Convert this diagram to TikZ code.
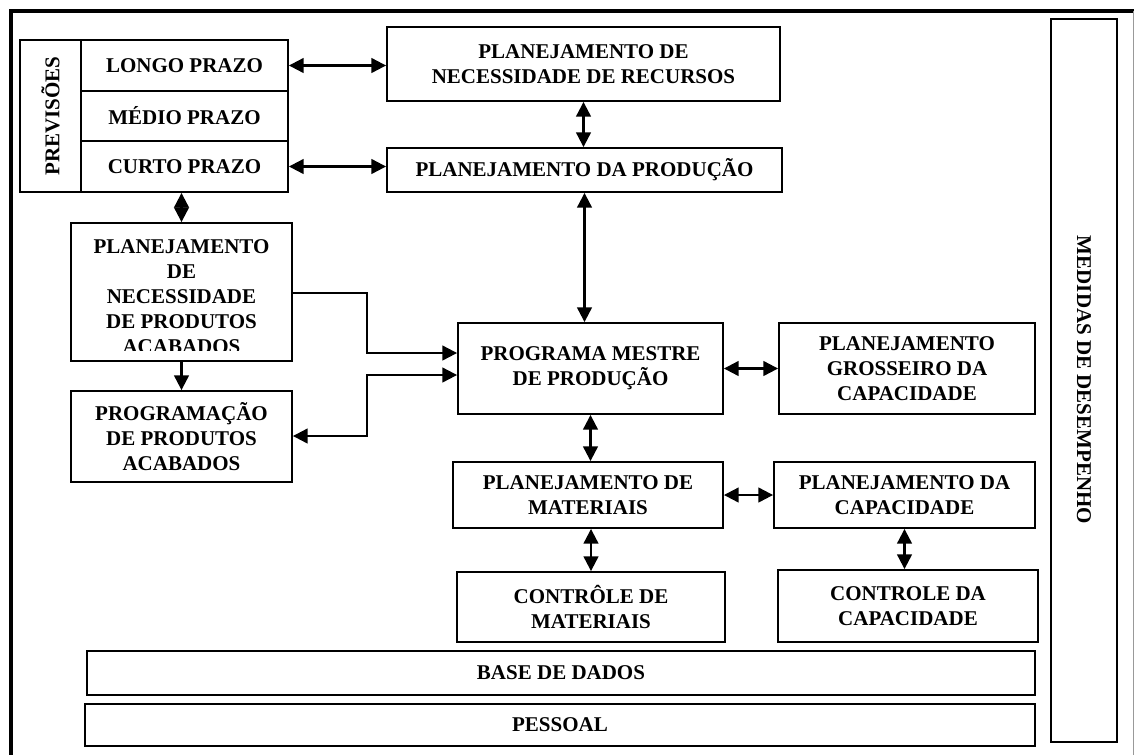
\documentclass[tikz,border=0pt]{standalone}
\usepackage{fontspec}
\setmainfont{Liberation Serif}
\usetikzlibrary{arrows.meta,fit}
\newcommand\diafont{\fontsize{15.75pt}{18.75pt}\selectfont\bfseries}
\begin{document}
\begin{tikzpicture}[x=0.75pt,y=-0.75pt,
  box/.style={draw,line width=1.4pt,inner sep=0pt},
  lbl/.style={inner sep=0pt,align=center,font=\diafont},
  conn/.style={line width=1.6pt,>={Triangle[length=11pt,width=11pt]}}]
\useasboundingbox (0,0) rectangle (1134,754);
% outer frame
\draw[line width=3pt] (11,770) -- (11,11) -- (1145,11);
\draw[line width=0.6pt,black!40] (1133,11) -- (1133,770);
% forecasts
\node[box,fit={(20,40)(81,192)}] (prev) {};
\node[lbl,rotate=90] (prevt) at (prev.center) {PREVISÕES};
\node[box,fit={(81,40)(288,91)}] (longo) {};
\node[lbl] at (longo.center) {LONGO PRAZO};
\node[box,fit={(81,91)(288,141)}] (medio) {};
\node[lbl] at (medio.center) {MÉDIO PRAZO};
\node[box,fit={(81,141)(288,192)}] (curto) {};
\node[lbl] at (curto.center) {CURTO PRAZO};
% top planning
\node[box,fit={(387,27)(780,101)}] (pnr) {};
\node[lbl] at (pnr.center) {PLANEJAMENTO DE\\NECESSIDADE DE RECURSOS};
\node[box,fit={(387,148)(782,192)}] (pp) {};
\node[lbl] at (pp.center) {PLANEJAMENTO DA PRODUÇÃO};
% left column
\node[box,fit={(71,223)(292,361)}] (pnpa) {};
\begin{scope}
  \clip (71,223) rectangle (292,350);
  \node[lbl] (pnpat) at (181.5,296.5) {PLANEJAMENTO\\DE\\NECESSIDADE\\DE PRODUTOS\\ACABADOS};
\end{scope}
\node[box,fit={(71,391)(292,482)}] (ppa) {};
\node[lbl] at (ppa.center) {PROGRAMAÇÃO\\DE PRODUTOS\\ACABADOS};
% centre
\node[box,fit={(458,323)(723,414)}] (pmp) {};
\node[lbl] at (pmp.center) {PROGRAMA MESTRE\\DE PRODUÇÃO};
\node[box,fit={(779,323)(1035,414)}] (pgc) {};
\node[lbl] at (pgc.center) {PLANEJAMENTO\\GROSSEIRO DA\\CAPACIDADE};
\node[box,fit={(453,462)(723,528)}] (pm) {};
\node[lbl] at (pm.center) {PLANEJAMENTO DE\\MATERIAIS};
\node[box,fit={(774,462)(1035,528)}] (pc) {};
\node[lbl] at (pc.center) {PLANEJAMENTO DA\\CAPACIDADE};
\node[box,fit={(457,572)(725,642)}] (cm) {};
\node[lbl] at (cm.center) {CONTRÔLE DE\\MATERIAIS};
\node[box,fit={(778,570)(1038,642)}] (cc) {};
\node[lbl] at (cc.center) {CONTROLE DA\\CAPACIDADE};
% bottom bars
\node[box,fit={(87,651)(1035,695)}] (bd) {};
\node[lbl] at (bd.center) {BASE DE DADOS};
\node[box,fit={(85,704)(1035,746)}] (pes) {};
\node[lbl] at (pes.center) {PESSOAL};
% right bar
\node[box,fit={(1051,19)(1117,742)}] (med) {};
\node[lbl,rotate=-90] (medt) at (1084,380) {MEDIDAS DE DESEMPENHO};
% connectors
\draw[conn,<->] (longo.east) -- (longo.east -| pnr.west);
\draw[conn,<->] (curto.east) -- (curto.east -| pp.west);
\draw[conn,<->] (pnr.south) -- (pnr.south |- pp.north);
\draw[conn,<->] (pp.south) -- (pp.south |- pmp.north);
\draw[conn,<->] (pnpa.north) -- (pnpa.north |- curto.south);
\draw[conn,->] (pnpa.south) -- (pnpa.south |- ppa.north);
\coordinate (j1) at (367,293);
\coordinate (a1) at (367,353);
\draw[conn,->] (j1 -| pnpa.east) -- (j1) -- (a1) -- (a1 -| pmp.west);
\coordinate (j2) at (367,436);
\coordinate (a2) at (367,375);
\draw[conn,<->] (j2 -| ppa.east) -- (j2) -- (a2) -- (a2 -| pmp.west);
\draw[conn,<->] (pmp.east) -- (pgc.west);
\draw[conn,<->] (pmp.south) -- (pmp.south |- pm.north);
\draw[conn,<->] (pm.east) -- (pc.west);
\draw[conn,<->] (cm.north) -- (cm.north |- pm.south);
\draw[conn,<->] (pc.south) -- (pc.south |- cc.north);
\end{tikzpicture}
\end{document}
